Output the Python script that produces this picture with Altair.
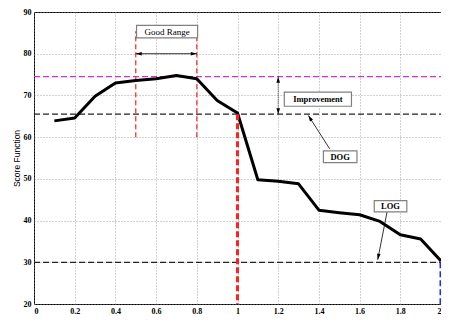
import altair as alt
import pandas as pd

# ---- data ----
x_vals = [0.1, 0.2, 0.3, 0.4, 0.5, 0.6, 0.7, 0.8, 0.9, 1.0,
          1.1, 1.2, 1.3, 1.4, 1.5, 1.6, 1.7, 1.8, 1.9, 2.0]
score = [63.9, 64.6, 69.8, 73.0, 73.6, 74.0, 74.8, 74.0, 68.8, 65.8,
         49.8, 49.4, 48.8, 42.5, 41.9, 41.4, 39.8, 36.6, 35.6, 30.3]

best_level = 74.5   # magenta reference
dog_level = 65.5    # DOG reference
log_level = 30.0    # LOG reference
range_lo, range_hi = 0.5, 0.8
range_y0, range_y1 = 60.0, 85.4
dog_x, log_x = 1.0, 2.0
y_min = 20.0
arrow_y = 80.0
impr_x = 1.2

x_ticks = [0, 0.2, 0.4, 0.6, 0.8, 1, 1.2, 1.4, 1.6, 1.8, 2]
y_ticks = [20, 30, 40, 50, 60, 70, 80, 90]

boxes = pd.DataFrame({
    "label": ["Good Range", "Improvement", "DOG", "LOG"],
    "x": [0.504, 1.23, 1.422, 1.672],
    "x2": [0.804, 1.56, 1.587, 1.832],
    "y": [86.8, 70.8, 56.7, 44.8],
    "y2": [83.8, 67.4, 53.9, 42.1],
    "tx": [0.654, 1.395, 1.5045, 1.752],
    "ty": [85.3, 69.1, 55.3, 43.45],
    "weight": ["normal", "bold", "bold", "bold"],
})

XS = alt.Scale(domain=[0, 2], nice=False, zero=False)
YS = alt.Scale(domain=[20, 90], nice=False, zero=False)
X_AXIS = alt.Axis(values=x_ticks, format="~g", title=None, labelPadding=3)
Y_AXIS = alt.Axis(values=y_ticks, title="Score Function", labelPadding=3,
                  titleFont="Liberation Sans", titleFontWeight="normal",
                  titleFontSize=8.5, titlePadding=2)


def X(field="x"):
    return alt.X(field, type="quantitative", scale=XS, axis=X_AXIS)


def Y(field="y"):
    return alt.Y(field, type="quantitative", scale=YS, axis=Y_AXIS)


def hrule(y, x0, x1, color, width, dash):
    df = pd.DataFrame({"x": [x0], "x2": [x1], "y": [y]})
    return alt.Chart(df).mark_rule(color=color, strokeWidth=width, strokeDash=dash).encode(
        x=X(), x2="x2", y=Y())


def vrule(x, y0, y1, color, width, dash, clip=False):
    df = pd.DataFrame({"x": [x], "y": [y0], "y2": [y1]})
    return alt.Chart(df).mark_rule(color=color, strokeWidth=width, strokeDash=dash, clip=clip).encode(
        x=X(), y=Y(), y2="y2")


ARROW = "M0,0L-0.3,1L0.3,1Z"


def head(x, y, angle):
    df = pd.DataFrame({"x": [x], "y": [y]})
    return alt.Chart(df).mark_point(shape=ARROW, size=144, filled=True, color="black",
                                    opacity=1, angle=angle, strokeWidth=0).encode(x=X(), y=Y())


def seg(xa, ya, xb, yb, dash=None, width=0.8):
    df = pd.DataFrame({"x": [xa, xb], "y": [ya, yb], "o": [0, 1]})
    kw = dict(color="black", strokeWidth=width)
    if dash:
        kw["strokeDash"] = dash
    return alt.Chart(df).mark_line(**kw).encode(x=X(), y=Y(), order="o")


curve_df = pd.DataFrame({"x": x_vals, "y": score})
curve = alt.Chart(curve_df).mark_line(color="black", strokeWidth=3, strokeJoin="round").encode(
    x=X(), y=Y())

rect_layer = alt.Chart(boxes).mark_rect(fill="white", stroke="#808080", strokeWidth=1.2).encode(
    x=X(), x2="x2", y=Y(), y2="y2")

text_bold = alt.Chart(boxes[boxes.weight == "bold"]).mark_text(
    font="Liberation Serif", fontSize=8.5, fontWeight="bold", color="black").encode(
    x=X("tx"), y=Y("ty"), text="label")
text_norm = alt.Chart(boxes[boxes.weight == "normal"]).mark_text(
    font="Liberation Serif", fontSize=9, color="black").encode(
    x=X("tx"), y=Y("ty"), text="label")

dash = [6, 3]
layers = [
    hrule(log_level, 0, 2, "#222222", 1.3, dash),
    hrule(dog_level, 0, 2, "#222222", 1.3, dash),
    hrule(best_level, 0, 2, "#d030d0", 1.3, dash),
    vrule(range_lo, range_y0, range_y1, "#ff3030", 1.3, [5, 3]),
    vrule(range_hi, range_y0, range_y1, "#ff3030", 1.3, [5, 3]),
    curve,
    vrule(dog_x, dog_level, y_min, "#ff2020", 3, [6, 3]),
    vrule(log_x, log_level, y_min, "#1a2cff", 3, [6, 3], clip=True),
    # good range arrow
    seg(range_lo, arrow_y, range_hi, arrow_y),
    head(range_lo, arrow_y, 270),
    head(range_hi, arrow_y, 90),
    # improvement arrow
    seg(impr_x, best_level, impr_x, dog_level, dash=[1, 1]),
    head(impr_x, best_level, 0),
    head(impr_x, dog_level, 180),
    # DOG / LOG pointers
    seg(1.453, 57.2, 1.348, 65.2),
    head(1.348, 65.2, 328),
    seg(1.735, 42.1, 1.689, 30.6),
    head(1.689, 30.6, 191),
    rect_layer,
    text_bold,
    text_norm,
]

chart = alt.layer(*layers).properties(
    width=407, height=292,
    autosize=alt.AutoSizeParams(type="none"),
    padding={"left": 26, "top": 4, "right": 0, "bottom": 11},
    background="white",
).configure_view(stroke="black", strokeWidth=1).configure_axis(
    grid=True, gridDash=[1, 2], gridColor="#8a8a8a", gridWidth=0.8,
    domain=False, ticks=False,
    labelFont="Liberation Serif", labelFontWeight="bold", labelFontSize=8,
    labelColor="black", titleColor="black",
)

chart.save("out.html", embed_options={"renderer": "svg", "actions": False})
